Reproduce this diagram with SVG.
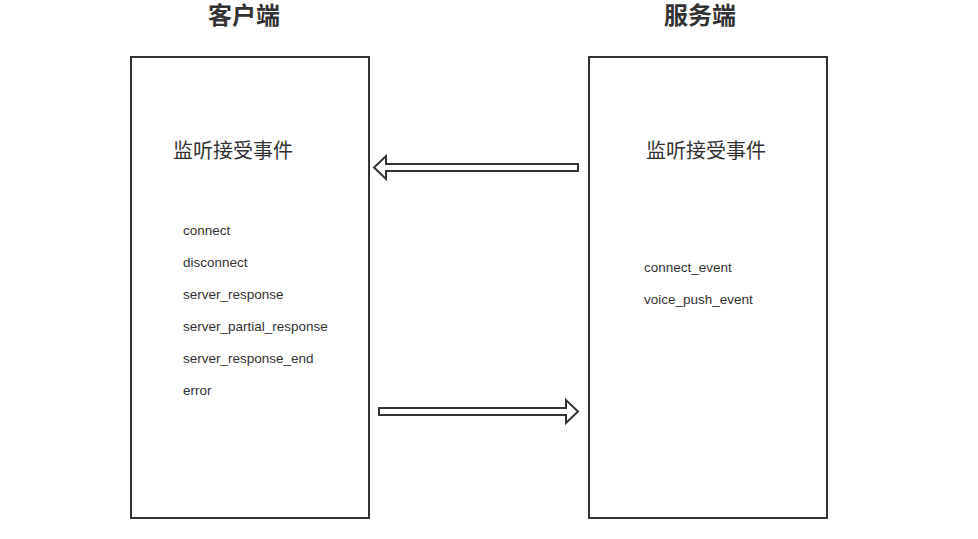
<svg xmlns="http://www.w3.org/2000/svg" width="978" height="539" viewBox="0 0 978 539">
<style>
.box{fill:#fff;stroke:#333;stroke-width:2}
.arrow{fill:#fff;stroke:#333;stroke-width:2;stroke-linejoin:miter}
.title{font-family:"Noto Sans CJK SC","Liberation Sans",sans-serif;font-size:24px;font-weight:bold;fill:#333;text-anchor:middle}
.head{font-family:"Noto Sans CJK SC","Liberation Sans",sans-serif;font-size:20px;fill:#333}
.item{font-family:"Liberation Sans","Noto Sans",sans-serif;font-size:13.5px;fill:#333}
</style>
<rect width="978" height="539" fill="#fff"/>
<g id="client">
<text class="title" x="244" y="24">客户端</text>
<rect class="box" x="131" y="57" width="238" height="461"/>
<text class="head" x="173" y="158">监听接受事件</text>
<text class="item" x="183" y="235">connect</text>
<text class="item" x="183" y="267">disconnect</text>
<text class="item" x="183" y="299">server_response</text>
<text class="item" x="183" y="331">server_partial_response</text>
<text class="item" x="183" y="363">server_response_end</text>
<text class="item" x="183" y="395">error</text>
</g>
<g id="server">
<text class="title" x="700" y="24">服务端</text>
<rect class="box" x="589" y="57" width="238" height="461"/>
<text class="head" x="646" y="158">监听接受事件</text>
<text class="item" x="644" y="272">connect_event</text>
<text class="item" x="644" y="304">voice_push_event</text>
</g>
<g id="connectors">
<polygon class="arrow" points="578,164 386,164 386,156 374,167.5 386,179 386,171 578,171"/>
<polygon class="arrow" points="379,408 566,408 566,400 578,411.5 566,423 566,415 379,415"/>
</g>
</svg>
